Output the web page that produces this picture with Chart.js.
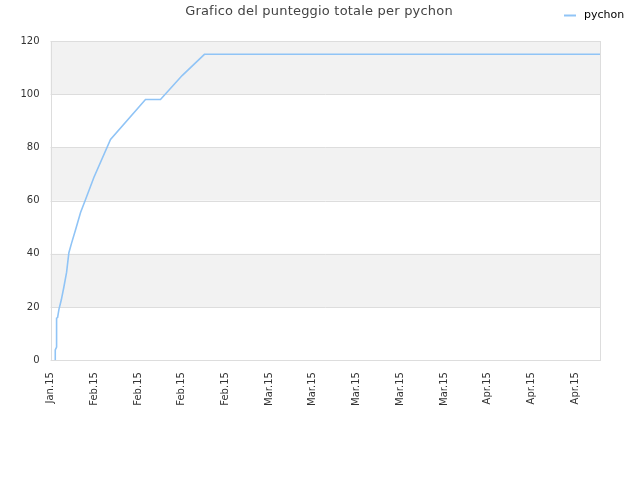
<!DOCTYPE html>
<html>
<head>
<meta charset="utf-8">
<script src="https://cdn.jsdelivr.net/npm/chart.js@4/dist/chart.umd.min.js"></script>
<style>
  html, body { margin: 0; padding: 0; background: #ffffff; }
  #wrap { width: 640px; height: 480px; position: relative; }
</style>
</head>
<body>
<div id="wrap"><canvas id="c" width="640" height="480"></canvas></div>
<script>
const chartTitle = 'Grafico del punteggio totale per pychon';
const seriesName = 'pychon';
const xTickLabels = ['Jan.15','Feb.15','Feb.15','Feb.15','Feb.15','Mar.15','Mar.15','Mar.15','Mar.15','Mar.15','Apr.15','Apr.15','Apr.15'];
const dayValues = [0.75, 0.75, 0.96, 0.96, 1.12, 1.33, 1.71, 2.13, 2.56, 2.93, 3.36, 4.0, 4.8, 5.6, 6.93, 9.6, 15.2, 17.6, 21.07, 24.64, 88];
const scoreValues = [0, 3.8, 4.9, 15.8, 16, 19, 22.6, 27.5, 33, 40.4, 44, 49, 55.5, 60.4, 68.7, 83, 98, 98, 107, 115, 115];
const yTicks = [0, 20, 40, 60, 80, 100, 120];

const lineColor = '#90c4f6';

const bandsPlugin = {
  id: 'bands',
  beforeDatasetsDraw(chart) {
    const { ctx, chartArea, scales } = chart;
    const y = scales.y;
    ctx.save();
    ctx.fillStyle = '#f2f2f2';
    for (let i = 1; i < yTicks.length - 1; i += 2) {
      const top = y.getPixelForValue(yTicks[i + 1]);
      const bot = y.getPixelForValue(yTicks[i]);
      ctx.fillRect(chartArea.left, top, chartArea.right - chartArea.left, bot - top);
    }
    ctx.strokeStyle = '#dddddd';
    ctx.lineWidth = 1;
    yTicks.forEach(v => {
      const py = Math.round(y.getPixelForValue(v)) + 0.5;
      ctx.beginPath();
      ctx.moveTo(chartArea.left, py);
      ctx.lineTo(chartArea.right, py);
      ctx.stroke();
    });
    ctx.strokeRect(Math.round(chartArea.left) + 0.5, Math.round(chartArea.top) + 0.5,
      Math.round(chartArea.right - chartArea.left), Math.round(chartArea.bottom - chartArea.top));
    ctx.restore();
  },
  afterDraw(chart) {
    const ctx = chart.ctx;
    ctx.save();
    ctx.fillStyle = '#444444';
    ctx.font = '13px "DejaVu Sans", sans-serif';
    try { ctx.letterSpacing = '0.2px'; } catch (e) {}
    ctx.textAlign = 'center';
    ctx.textBaseline = 'middle';
    ctx.fillText(chartTitle, 319, 12);
    try { ctx.letterSpacing = '0px'; } catch (e) {}
    ctx.strokeStyle = lineColor;
    ctx.lineWidth = 2;
    ctx.beginPath();
    ctx.moveTo(564, 15.5);
    ctx.lineTo(576, 15.5);
    ctx.stroke();
    ctx.fillStyle = '#000000';
    ctx.font = '11px "DejaVu Sans", sans-serif';
    ctx.textAlign = 'left';
    ctx.fillText(seriesName, 584, 15);
    ctx.restore();
  }
};

new Chart(document.getElementById('c'), {
  type: 'line',
  data: {
    datasets: [{
      label: seriesName,
      data: dayValues.map((d, i) => ({ x: d, y: scoreValues[i] })),
      borderColor: lineColor,
      borderWidth: 1.6,
      pointRadius: 0,
      tension: 0,
      fill: false
    }]
  },
  options: {
    responsive: false,
    animation: false,
    layout: { padding: { left: 9.5, right: 40, top: 41, bottom: 62 } },
    plugins: {
      legend: { display: false },
      tooltip: { enabled: false },
      title: { display: false }
    },
    scales: {
      x: {
        type: 'linear',
        min: 0,
        max: 88,
        grid: { display: false, drawTicks: false },
        border: { display: false },
        ticks: {
          stepSize: 7,
          autoSkip: false,
          minRotation: 90,
          maxRotation: 90,
          padding: 12,
          color: '#333333',
          font: { family: '"DejaVu Sans", sans-serif', size: 10 },
          callback: (v) => xTickLabels[Math.round(v / 7)]
        },
        afterBuildTicks: (axis) => {
          axis.ticks = xTickLabels.map((_, i) => ({ value: i * 7 }));
        }
      },
      y: {
        min: 0,
        max: 120,
        grid: { display: false, drawTicks: false },
        border: { display: false },
        ticks: {
          stepSize: 20,
          padding: 11,
          color: '#333333',
          font: { family: '"DejaVu Sans", sans-serif', size: 10 }
        }
      }
    }
  },
  plugins: [bandsPlugin]
});
</script>
</body>
</html>
